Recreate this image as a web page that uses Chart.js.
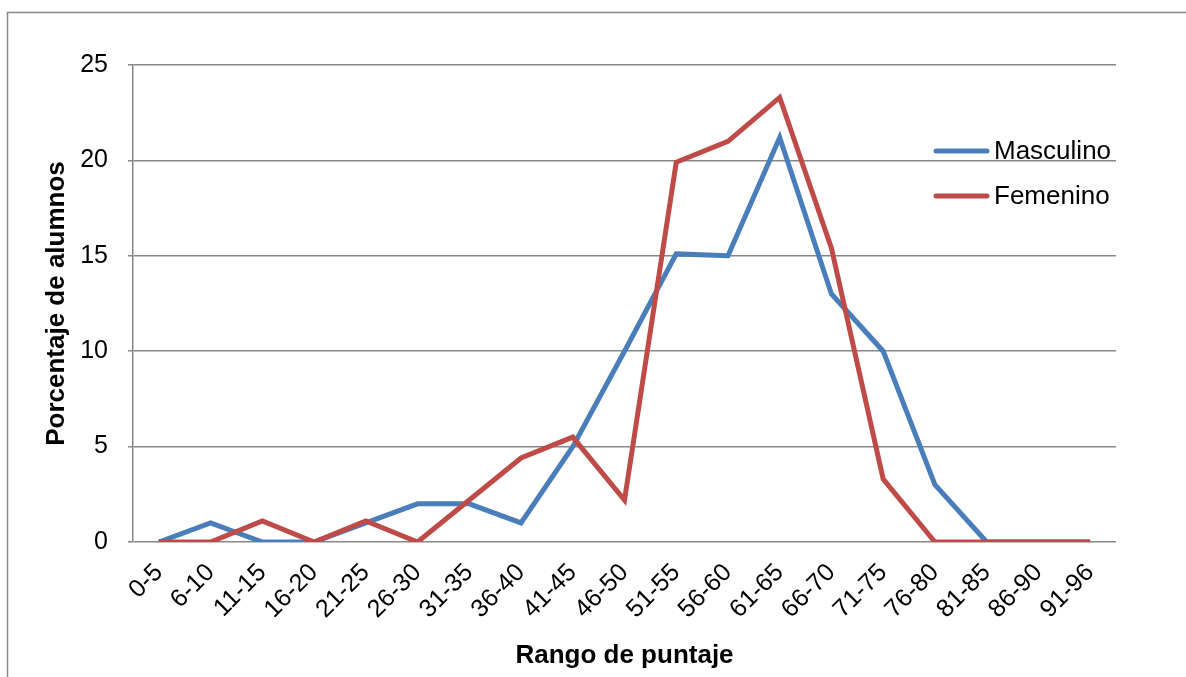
<!DOCTYPE html>
<html lang="es">
<head>
    <meta charset="UTF-8">
    <title>Rango de puntaje</title>
    <style>
        body { margin: 0; background: #fff; }
        #wrap { width: 1186px; height: 677px; }
    </style>
</head>
<body>
    <div id="wrap">
        <canvas id="lineChart" width="1186" height="677"></canvas>
    </div>

    <script src="https://cdn.jsdelivr.net/npm/chart.js"></script>
    <script>
        // datos
        const rangos = ['0-5', '6-10', '11-15', '16-20', '21-25', '26-30', '31-35', '36-40', '41-45', '46-50',
            '51-55', '56-60', '61-65', '66-70', '71-75', '76-80', '81-85', '86-90', '91-96'];
        const masculino = [0, 1, 0, 0, 1, 2, 2, 1, 5, 10, 15.1, 15, 21.2, 13, 10, 3, 0, 0, 0];
        const femenino = [0, 0, 1.1, 0, 1.1, 0, 2.2, 4.4, 5.5, 2.2, 19.9, 21, 23.3, 15.4, 3.3, 0, 0, 0, 0];
        const yTicks = [0, 5, 10, 15, 20, 25];

        const FONT = "'Liberation Sans', Arial, sans-serif";
        const GRID = '#878787';

        // marco exterior
        const frame = {
            id: 'frame',
            beforeDraw(chart) {
                const ctx = chart.ctx;
                ctx.save();
                ctx.fillStyle = '#fff';
                ctx.fillRect(0, 0, chart.width, chart.height);
                ctx.strokeStyle = GRID;
                ctx.lineWidth = 1.5;
                ctx.strokeRect(7.5, 12.5, 1200, 700);
                ctx.restore();
            }
        };

        // leyenda dentro del area del grafico
        const legendBox = {
            id: 'legendBox',
            afterDraw(chart) {
                const ctx = chart.ctx;
                ctx.save();
                ctx.font = `26px ${FONT}`;
                ctx.textBaseline = 'middle';
                ctx.lineCap = 'round';
                chart.data.datasets.forEach((ds, i) => {
                    const y = 151 + i * 45;
                    ctx.strokeStyle = ds.borderColor;
                    ctx.lineWidth = 5;
                    ctx.beginPath();
                    ctx.moveTo(936, y);
                    ctx.lineTo(987, y);
                    ctx.stroke();
                    ctx.fillStyle = '#000';
                    ctx.fillText(ds.label, 994, y + 1);
                });
                ctx.restore();
            }
        };

        new Chart(document.getElementById('lineChart'), {
            type: 'line',
            data: {
                labels: rangos,
                datasets: [{
                    label: 'Masculino',
                    data: masculino,
                    borderColor: '#4A7EBB',
                    borderWidth: 5,
                    pointRadius: 0,
                    tension: 0,
                    order: 1
                }, {
                    label: 'Femenino',
                    data: femenino,
                    borderColor: '#BE4B48',
                    borderWidth: 5,
                    pointRadius: 0,
                    tension: 0,
                    order: 0
                }]
            },
            options: {
                responsive: false,
                animation: false,
                layout: { padding: { top: 65, right: 70, left: 0, bottom: 0 } },
                plugins: {
                    legend: { display: false },
                    tooltip: { enabled: false }
                },
                scales: {
                    x: {
                        offset: true,
                        grid: { display: false, drawTicks: false },
                        border: { display: false },
                        ticks: {
                            autoSkip: false,
                            minRotation: 45,
                            maxRotation: 45,
                            padding: 16,
                            color: '#000',
                            font: { family: FONT, size: 25 }
                        },
                        title: {
                            display: true,
                            text: 'Rango de puntaje',
                            color: '#000',
                            font: { family: FONT, size: 26, weight: 'bold' },
                            padding: { top: 0, bottom: 6 }
                        },
                        afterFit: (scale) => { scale.height = 135; }
                    },
                    y: {
                        min: 0,
                        max: 25,
                        afterBuildTicks: (scale) => { scale.ticks = yTicks.map(v => ({ value: v })); },
                        grid: { color: GRID, lineWidth: 1.5, tickLength: 5 },
                        border: { color: GRID, width: 1.5 },
                        ticks: {
                            padding: 20,
                            color: '#000',
                            font: { family: FONT, size: 25 }
                        },
                        title: {
                            display: true,
                            text: 'Porcentaje de alumnos',
                            color: '#000',
                            font: { family: FONT, size: 26, weight: 'bold' },
                            padding: { top: 41, bottom: 0 }
                        },
                        afterFit: (scale) => { scale.width = 133; }
                    }
                }
            },
            plugins: [frame, legendBox]
        });
    </script>
</body>
</html>
